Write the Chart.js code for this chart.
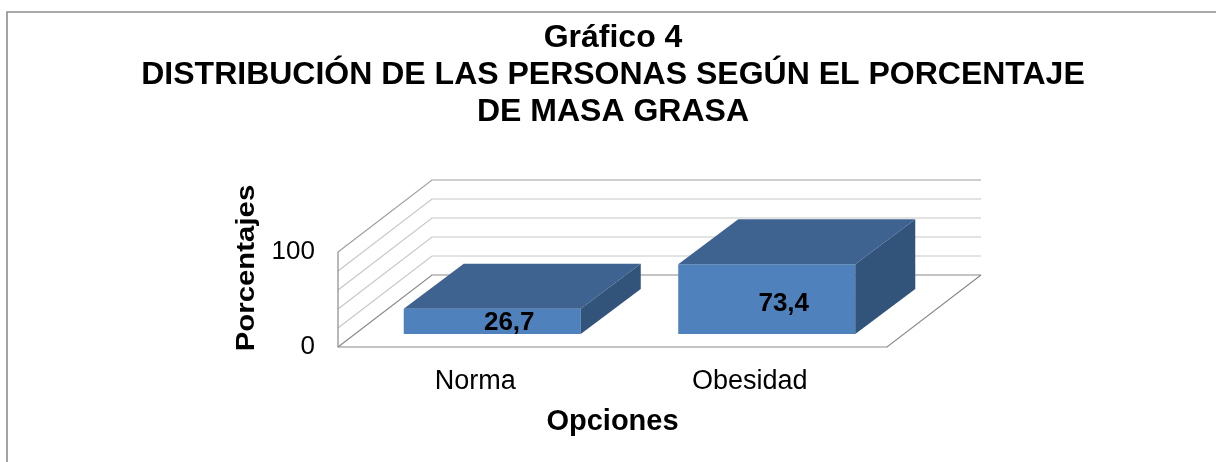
<!DOCTYPE html>
<html><head><meta charset="utf-8">
<style>html,body{margin:0;padding:0;background:#fff;overflow:hidden}canvas{display:block}</style>
<script src="https://cdn.jsdelivr.net/npm/chart.js@4"></script>
</head><body><canvas id="c" width="1216" height="462"></canvas>
<script>
const categories = ['Norma', 'Obesidad'];
const seriesValues = [26.7, 73.4];
const valueLabels = ['26,7', '73,4'];
const gridValues = [0, 20, 40, 60, 80, 100];
const shownTicks = [0, 100];
const titleLines = ['Gráfico 4', 'DISTRIBUCIÓN DE LAS PERSONAS SEGÚN EL PORCENTAJE', 'DE MASA GRASA'];
const yTitle = 'Porcentajes';
const xTitle = 'Opciones';

const FONT = '"Liberation Sans", Arial, sans-serif';
const WALL = {dx: 94, dy: -72};
const BAR_SHIFT = {dx: 17, dy: -13};
const BAR_DEPTH = {dx: 60, dy: -45};

function poly(ctx, pts, fill, stroke, lw) {
  ctx.beginPath();
  pts.forEach((p, i) => i ? ctx.lineTo(p[0], p[1]) : ctx.moveTo(p[0], p[1]));
  if (fill) { ctx.closePath(); ctx.fillStyle = fill; ctx.fill(); }
  if (stroke) { ctx.strokeStyle = stroke; ctx.lineWidth = lw || 1; ctx.stroke(); }
}

const scene = {
  id: 'scene',
  afterLayout(chart) {
    const t = chart.titleBlock;
    const h = t.bottom - t.top;
    t.top = 19.5; t.bottom = 19.5 + h; t.left = 0; t.right = 1226;
  },
  beforeDatasetsDraw(chart) {
    const ctx = chart.ctx, {x, y} = chart.scales, L = x.left, R = x.right;
    ctx.save();
    // page frame
    poly(ctx, [[7, 462], [7, 12], [1216, 12]], null, '#8c8c8c', 1.6);
    // walls and grid
    gridValues.forEach(v => {
      const py = y.getPixelForValue(v);
      const col = (v === 0) ? '#8a8a8a' : (v === 100 ? '#a0a0a0' : '#c8c8c8');
      poly(ctx, [[L, py], [L + WALL.dx, py + WALL.dy], [R + WALL.dx, py + WALL.dy]], null, col, 1.2);
    });
    poly(ctx, [[L, y.getPixelForValue(100)], [L, y.getPixelForValue(0)], [R, y.getPixelForValue(0)], [R + WALL.dx, y.getPixelForValue(0) + WALL.dy]], null, '#8a8a8a', 1.2);
    ctx.restore();
    ctx.save();
    ctx.translate(BAR_SHIFT.dx, BAR_SHIFT.dy);
  },
  afterDatasetsDraw(chart) {
    const ctx = chart.ctx;
    chart.getDatasetMeta(0).data.forEach(bar => {
      const p = bar.getProps(['x', 'y', 'base', 'width'], true);
      const l = p.x - p.width / 2, r = p.x + p.width / 2, d = BAR_DEPTH;
      poly(ctx, [[l, p.y], [r, p.y], [r + d.dx, p.y + d.dy], [l + d.dx, p.y + d.dy]], '#3f6391');
      poly(ctx, [[r, p.y], [r + d.dx, p.y + d.dy], [r + d.dx, p.base + d.dy], [r, p.base]], '#32537a');
    });
    ctx.restore();
    ctx.save();
    ctx.fillStyle = '#000';
    ctx.textAlign = 'center';
    ctx.textBaseline = 'middle';
    ctx.font = 'bold 26px ' + FONT;
    chart.getDatasetMeta(0).data.forEach((bar, i) => {
      const p = bar.getProps(['x', 'y', 'base'], true);
      ctx.fillText(valueLabels[i], p.x + 2 * BAR_SHIFT.dx, (p.y + p.base) / 2 + BAR_SHIFT.dy + (i ? 5 : 2));
    });
    ctx.translate(247, 268);
    ctx.rotate(-Math.PI / 2);
    ctx.scale(1.13, 1);
    ctx.font = 'bold 26px ' + FONT;
    ctx.fillText(yTitle, 0, 0);
    ctx.restore();
  }
};

new Chart(document.getElementById('c'), {
  type: 'bar',
  data: {
    labels: categories,
    datasets: [{data: seriesValues, backgroundColor: '#4f81bd', borderWidth: 0,
      categoryPercentage: 1, barPercentage: 0.645}]
  },
  plugins: [scene],
  options: {
    responsive: false,
    animation: false,
    devicePixelRatio: 1,
    layout: {padding: {top: 141, right: 329, bottom: 0, left: 0}},
    plugins: {
      legend: {display: false},
      tooltip: {enabled: false},
      title: {display: true, text: titleLines, color: '#000', padding: 0,
        font: {family: FONT, size: 32, weight: 'bold', lineHeight: 37 / 32}}
    },
    scales: {
      x: {
        grid: {display: false}, border: {display: false},
        afterFit(s) { s.height = 115; },
        ticks: {color: '#000', padding: 10, maxRotation: 0, font: {family: FONT, size: 27}},
        title: {display: true, text: xTitle, color: '#000', padding: {top: 0, bottom: 23},
          font: {family: FONT, size: 29, weight: 'bold'}}
      },
      y: {
        min: 0, max: 100,
        grid: {display: false}, border: {display: false},
        afterFit(s) { s.width = 338; },
        ticks: {color: '#000', stepSize: 20, padding: 15, autoSkip: false,
          font: {family: FONT, size: 26},
          callback: v => shownTicks.includes(v) ? String(v) : ''}
      }
    }
  }
});
</script></body></html>
